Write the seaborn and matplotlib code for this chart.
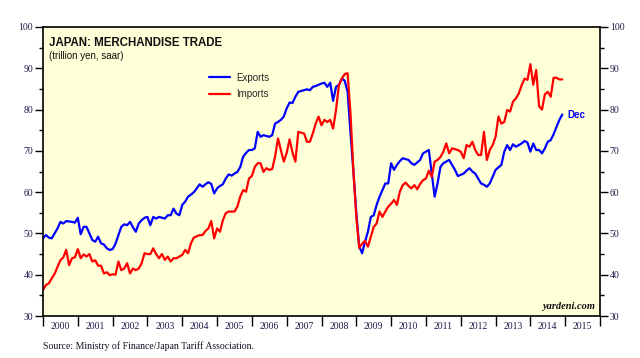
import numpy as np
import pandas as pd
import matplotlib
matplotlib.use("Agg")
import matplotlib.pyplot as plt
import seaborn as sns
from matplotlib.lines import Line2D

# ---------------- data (trillion yen, saar), monthly Jan 2000 - Dec 2014 ----------------
exports = [
    48.8, 49.6, 49.0, 48.8, 50.0, 51.2, 52.8, 52.4, 53.0, 52.9, 52.8, 52.6,   # 2000
    53.8, 49.8, 51.6, 51.6, 50.0, 48.4, 48.0, 49.2, 47.6, 47.3, 46.4, 46.0,   # 2001
    46.2, 47.5, 49.6, 51.6, 52.2, 52.0, 52.8, 51.5, 50.4, 52.4, 53.2, 53.8,   # 2002
    54.0, 52.0, 54.0, 53.6, 54.0, 53.8, 53.6, 54.4, 54.4, 56.0, 54.8, 54.4,   # 2003
    56.9, 57.7, 58.9, 59.4, 60.0, 60.9, 61.9, 61.3, 61.9, 62.4, 62.0, 59.7,   # 2004
    60.9, 61.5, 61.9, 63.3, 64.3, 64.0, 64.5, 64.9, 66.1, 68.6, 69.5, 70.2,   # 2005
    70.2, 70.6, 74.6, 73.4, 73.8, 73.6, 73.4, 73.8, 76.6, 77.0, 77.5, 78.3,   # 2006
    80.3, 81.7, 81.6, 83.1, 84.3, 84.5, 84.7, 84.9, 84.7, 85.5, 85.7, 86.0,   # 2007
    86.3, 86.5, 85.5, 86.5, 82.1, 85.5, 86.0, 87.5, 87.0, 84.3, 74.3, 65.0,   # 2008
    55.0, 46.8, 45.2, 48.0, 50.4, 54.0, 54.4, 56.9, 58.9, 60.5, 62.1, 62.1,   # 2009
    67.0, 65.4, 66.6, 67.5, 68.2, 68.0, 67.8, 67.0, 66.6, 67.2, 67.8, 69.4,   # 2010
    69.8, 70.2, 64.5, 58.9, 62.1, 66.1, 67.0, 67.4, 67.8, 66.6, 65.4, 63.9,   # 2011
    64.2, 64.5, 65.2, 65.8, 65.0, 64.5, 63.3, 62.1, 61.8, 61.3, 62.1, 63.7,   # 2012
    65.4, 66.0, 66.6, 69.8, 71.4, 70.2, 71.6, 71.0, 71.4, 71.8, 72.4, 72.0,   # 2013
    69.8, 71.8, 70.2, 70.2, 69.4, 70.6, 72.2, 72.6, 74.0, 75.8, 77.5, 78.8,   # 2014
]
imports = [
    36.3, 37.5, 37.9, 39.1, 40.2, 41.9, 43.5, 44.2, 46.0, 42.3, 44.0, 44.2,   # 2000
    46.2, 44.0, 44.9, 44.4, 45.0, 43.2, 43.5, 42.2, 42.2, 40.3, 40.6, 39.9,   # 2001
    40.1, 40.0, 43.2, 41.1, 41.5, 42.8, 40.3, 41.5, 41.1, 41.5, 42.8, 45.2,   # 2002
    45.0, 45.0, 46.4, 45.0, 44.0, 45.0, 43.6, 44.4, 43.2, 44.0, 44.0, 44.4,   # 2003
    44.8, 46.0, 45.2, 47.6, 49.0, 49.3, 49.6, 49.6, 50.6, 51.2, 53.0, 48.8,   # 2004
    51.2, 50.4, 53.2, 54.9, 55.3, 55.3, 55.3, 56.5, 58.9, 60.5, 60.1, 63.3,   # 2005
    63.9, 66.1, 67.0, 67.0, 64.9, 65.8, 65.4, 65.6, 68.6, 73.0, 70.2, 67.4,   # 2006
    69.5, 72.8, 69.6, 67.4, 74.6, 74.4, 74.2, 72.2, 72.2, 74.2, 76.6, 78.3,   # 2007
    76.2, 77.5, 77.0, 77.5, 75.4, 79.9, 85.9, 87.5, 88.6, 88.8, 79.0, 65.0,   # 2008
    54.0, 46.5, 47.5, 48.2, 46.8, 49.2, 51.6, 52.4, 55.3, 54.0, 55.3, 56.5,   # 2009
    57.2, 58.1, 56.9, 60.1, 61.7, 62.3, 61.5, 60.9, 61.7, 60.7, 62.0, 62.9,   # 2010
    63.3, 65.2, 63.7, 67.4, 67.8, 68.5, 69.8, 71.8, 69.4, 70.6, 70.4, 70.2,   # 2011
    69.8, 68.2, 71.4, 71.0, 72.2, 70.2, 69.0, 69.0, 74.6, 67.8, 70.2, 71.4,   # 2012
    73.4, 78.3, 76.6, 77.0, 79.9, 79.5, 81.9, 82.7, 83.9, 85.9, 87.5, 87.2,   # 2013
    91.0, 86.0, 89.6, 80.8, 80.0, 83.7, 84.3, 83.1, 87.7, 87.7, 87.3, 87.3,   # 2014
]
series_names = ["Exports", "Imports"]
series_colors = ["#0000FF", "#FF0000"]
year_labels = [str(y) for y in range(2000, 2016)]
y_ticks = [30, 40, 50, 60, 70, 80, 90, 100]

dates = pd.date_range("2000-01-01", periods=len(exports), freq="MS")
t = dates.year + (dates.month - 1) / 12.0
df = pd.DataFrame({
    "t": np.concatenate([t, t]),
    "value": exports + imports,
    "series": [series_names[0]] * len(exports) + [series_names[1]] * len(imports),
})

# ---------------- style ----------------
sns.set_theme(style="ticks")
plt.rcParams["font.family"] = ["Liberation Serif", "DejaVu Serif"]
TICK_COLOR = "#1c1c4c"

fig = plt.figure(figsize=(6.4, 3.58), dpi=100)
ax = fig.add_axes([43 / 640, 42 / 358, 557 / 640, 289 / 358])
ax.set_facecolor("#FFFFD8")

sns.lineplot(data=df, x="t", y="value", hue="series", hue_order=series_names,
             palette=dict(zip(series_names, series_colors)), linewidth=1.6,
             ax=ax, legend=False)

ax.set_xlim(2000, 2016)
ax.set_ylim(30, 100)
ax.set_xlabel("")
ax.set_ylabel("")

for s in ax.spines.values():
    s.set_color("black")
    s.set_linewidth(1.2)

# y axis (left)
ax.set_yticks(y_ticks)
ax.set_yticks(np.arange(35, 100, 10), minor=True)
ax.tick_params(axis="y", which="major", direction="out", length=6, width=1,
               color="black", labelsize=7, labelcolor=TICK_COLOR, pad=1)
ax.tick_params(axis="y", which="minor", direction="out", length=3, width=1, color="black")

# x axis: ticks at year boundaries, labels centred between
ax.set_xticks(np.arange(2000, 2017))
ax.set_xticklabels([""] * 17)
ax.set_xticks(np.arange(2000.5, 2016, 1.0), minor=True)
ax.set_xticklabels(year_labels, minor=True)
ax.tick_params(axis="x", which="major", direction="out", length=7, width=1, color="black")
ax.tick_params(axis="x", which="minor", length=0, labelsize=7, labelcolor=TICK_COLOR, pad=4)

# right axis
ax2 = ax.twinx()
ax2.set_ylim(30, 100)
ax2.set_yticks(y_ticks)
ax2.set_yticks(np.arange(35, 100, 10), minor=True)
ax2.tick_params(axis="y", which="major", direction="out", length=6, width=1,
                color="black", labelsize=7, labelcolor=TICK_COLOR, pad=1)
ax2.tick_params(axis="y", which="minor", direction="out", length=3, width=1, color="black")
for s in ax2.spines.values():
    s.set_visible(False)

# titles
sans = ["Liberation Sans", "DejaVu Sans"]
ax.text(0.011, 0.967, "JAPAN: MERCHANDISE TRADE", transform=ax.transAxes,
        fontsize=8.3, fontweight="bold", family=sans, color="#111111", va="top", ha="left")
ax.text(0.011, 0.918, "(trillion yen, saar)", transform=ax.transAxes,
        fontsize=7, family=sans, color="#111111", va="top", ha="left")

# legend
handles = [Line2D([0], [0], color=c, lw=1.6) for c in series_colors]
leg = ax.legend(handles, series_names, loc="upper left", bbox_to_anchor=(0.298, 0.842),
                frameon=False, borderpad=0, borderaxespad=0, handlelength=2.2,
                handletextpad=0.6, labelspacing=0.65,
                prop={"family": sans, "size": 7})

# end label
ax.annotate("Dec", xy=(t[-1], exports[-1]), xytext=(4, 0), textcoords="offset points",
            color="#0000FF", fontsize=7, family=sans, fontweight="bold", va="center", ha="left")

ax.text(0.992, 0.018, "yardeni.com", transform=ax.transAxes, fontsize=7.5,
        fontweight="bold", fontstyle="italic", color="#111111", ha="right", va="bottom")

fig.text(43 / 640, 1 - 346 / 358, "Source: Ministry of Finance/Japan Tariff Association.",
         fontsize=7, color="#111122", ha="left", va="center")

fig.savefig("out.png", dpi=100, facecolor="white")
